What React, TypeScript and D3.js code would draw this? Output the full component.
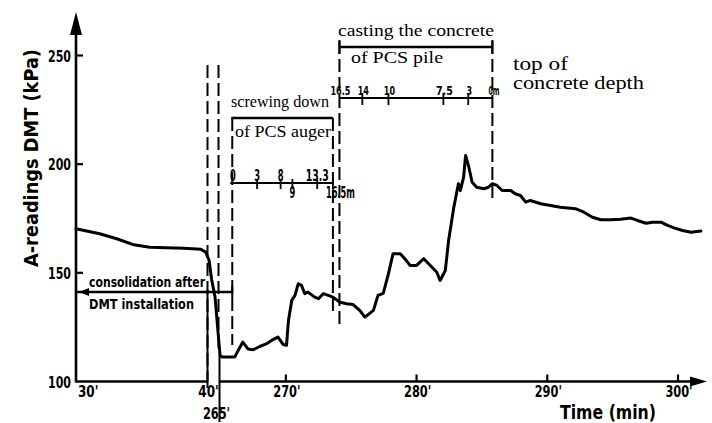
import React from "react";
import * as d3 from "d3";

// ---- data ----
const readingTime = [
  30, 31.8, 33.1, 34.4, 35.6, 38.2, 39.5, 39.85,
  66, 113, 170, 256,
  265.1, 266.1, 266.35, 266.7, 267.1, 267.5, 268.0, 268.5, 268.9, 269.4, 269.8, 270.05,
  270.2, 270.45, 270.7, 270.95, 271.2, 271.45, 271.7, 272.2, 272.5, 272.85, 273.25, 273.6,
  274.15, 274.65, 275.15, 275.65, 276.05, 276.7, 277.05, 277.45, 277.85, 278.2, 278.75,
  279.1, 279.5, 280.0, 280.55, 281.05, 281.55, 281.8, 282.2, 282.45, 282.85, 283.1, 283.2,
  283.35, 283.6, 283.75, 284.0, 284.25, 284.6, 285.15, 285.5, 285.8, 286.15, 286.55, 287.2,
  287.55, 287.95, 288.35, 288.7, 289.5, 290.25, 291.0, 292.15, 292.8, 293.45, 294.1, 294.85,
  295.6, 296.4, 296.9, 297.55, 298.05, 298.7, 299.2, 299.7, 300.35, 301.0, 301.75,
];
const readingKPa = [
  170.3, 168.0, 165.7, 162.9, 161.8, 161.3, 160.8, 159.6,
  155.9, 146.7, 139.0, 112.2,
  111.3, 111.3, 114.3, 118.1, 115.0, 114.6, 116.1, 117.3, 118.9, 120.4, 117.0, 116.6,
  128.1, 137.3, 139.6, 145.0, 144.2, 140.4, 141.1, 138.8, 138.1, 140.4, 139.6, 138.8,
  136.5, 135.8, 135.4, 132.7, 129.6, 132.7, 139.6, 140.6, 149.6, 158.8, 158.8,
  156.5, 153.4, 153.4, 156.5, 153.4, 150.3, 146.5, 151.1, 164.9, 180.2, 187.9, 191.0,
  187.9, 194.0, 204.0, 198.6, 191.7, 189.4, 188.7, 189.4, 191.0, 190.2, 187.9, 187.9,
  186.4, 185.6, 182.5, 183.3, 181.8, 181.0, 180.2, 179.5, 177.9, 175.6, 174.4, 174.4,
  174.7, 175.2, 174.1, 172.8, 173.3, 173.3, 171.8, 170.7, 169.5, 168.7, 169.2,
];

const yTicks = [100, 150, 200, 250];
const xTicksRight = [270, 280, 290, 300];
const xTickLabels = ["30'", "40'", "265'", "270'", "280'", "290'", "300'"];
const xTickLabelTimes = [30, 40, 265, 270, 280, 290, 300];

// phases (minutes)
const breakTimes = [40, 265];
const screwStart = 265.9;
const screwEnd = 273.6;
const castStart = 274.1;
const castEnd = 285.8;

// depth marks
const screwDepthLabels = ["0", "3", "8", "9", "13.3", "16.5m"];
const screwDepthTimes = [265.95, 267.8, 269.6, 270.5, 272.4, 273.6];
const screwDepthBelow = [false, false, false, true, false, true];
const castDepthLabels = ["16.5", "14", "10", "7.5", "3", "0m"];
const castDepthTimes = [274.1, 275.85, 277.85, 282.05, 283.95, 285.8];

const W = 712;
const H = 423;

const cond = "'DejaVu Sans Condensed', 'DejaVu Sans', sans-serif";
const serif = "'Liberation Serif', 'DejaVu Serif', 'Times New Roman', serif";

export default function App() {
  const x = d3.scaleLinear().domain([30, 40, 265, 300]).range([76, 207.5, 220.5, 678]);
  const y = d3.scaleLinear().domain([100, 250]).range([381.5, 55.5]);

  const pts: [number, number][] = readingTime.map((t, i) => [t, readingKPa[i]]);
  const line = d3
    .line<[number, number]>()
    .x((d) => x(d[0]))
    .y((d) => y(d[1]))
    .curve(d3.curveLinear);

  const axisY = y(100);
  const x0 = x(30);
  const xb1 = x(breakTimes[0]);
  const xb2 = x(breakTimes[1]) - 1;
  const xs0 = x(screwStart);
  const xs1 = x(screwEnd);
  const xc0 = x(castStart);
  const xc1 = x(castEnd);

  const dash = "13,5";
  const boldText = (extra: any = {}) => ({
    fontFamily: cond,
    fontWeight: 700,
    fontStretch: "condensed" as any,
    ...extra,
  });

  const screwLineY = 118;
  const screwDepthY = 183;
  const castLineY = 47;
  const castDepthY = 98;

  return (
    <svg
      width={W}
      height={H}
      style={{ position: "absolute", left: 0, top: 0, background: "#fff" }}
    >
      <rect x={0} y={0} width={W} height={H} fill="#fff" />

      {/* y axis */}
      <line x1={x0} y1={axisY + 1} x2={x0} y2={24} stroke="#000" strokeWidth={2.6} />
      <path d={`M${x0},12 L${x0 - 6},35 L${x0 + 6},35 Z`} fill="#000" />
      {yTicks.slice(1).map((v) => (
        <line key={v} x1={x0} x2={x0 + 7} y1={y(v)} y2={y(v)} stroke="#000" strokeWidth={2.2} />
      ))}
      {yTicks.map((v) => (
        <text
          key={v}
          x={71}
          y={y(v) + 6}
          textAnchor="end"
          fontSize={16}
          textLength={23}
          lengthAdjust="spacingAndGlyphs"
          style={boldText()}
        >
          {v}
        </text>
      ))}
      <text
        transform={`translate(38,158) rotate(-90)`}
        textAnchor="middle"
        fontSize={19}
        textLength={218}
        lengthAdjust="spacingAndGlyphs"
        style={boldText()}
      >
        A-readings DMT (kPa)
      </text>

      {/* x axis (two segments with break) */}
      <line x1={x0} x2={xb1} y1={axisY} y2={axisY} stroke="#000" strokeWidth={2.6} />
      <line x1={xb2} x2={694} y1={axisY} y2={axisY} stroke="#000" strokeWidth={2.6} />
      <path d={`M707,${axisY} L690,${axisY - 5} L690,${axisY + 5} Z`} fill="#000" />
      {xTicksRight.map((t) => (
        <line key={t} x1={x(t)} x2={x(t)} y1={axisY} y2={axisY - 7} stroke="#000" strokeWidth={2.2} />
      ))}
      {xTickLabels.map((lab, i) => {
        const t = xTickLabelTimes[i];
        let tx = x(t);
        let ty = 397;
        let anchor: any = "middle";
        if (t === 30) {
          tx = x0 + 2;
          anchor = "start";
        } else if (t === 40) {
          tx = xb1 + 1;
        } else if (t === 265) {
          tx = xb2 - 3;
          ty = 419;
        } else {
          tx = x(t) + 1;
        }
        return (
          <text
            key={lab}
            x={tx}
            y={ty}
            textAnchor={anchor}
            fontSize={16}
            textLength={lab.length * 6.8}
            lengthAdjust="spacingAndGlyphs"
            style={boldText()}
          >
            {lab}
          </text>
        );
      })}
      <text
        x={560}
        y={419}
        fontSize={19}
        textLength={96}
        lengthAdjust="spacingAndGlyphs"
        style={boldText()}
      >
        Time  (min)
      </text>

      {/* break / phase boundary lines */}
      <line x1={xb1} x2={xb1} y1={65} y2={axisY} stroke="#000" strokeWidth={2} strokeDasharray={dash} />
      <line x1={xb1} x2={xb1} y1={290} y2={388} stroke="#000" strokeWidth={2} />
      <line x1={xb2 - 1} x2={xb2 - 1} y1={65} y2={352} stroke="#000" strokeWidth={2} strokeDasharray={dash} />
      <line x1={xb2} x2={xb2} y1={355} y2={422} stroke="#000" strokeWidth={2} />
      <line x1={xs0} x2={xs0} y1={screwLineY} y2={345} stroke="#000" strokeWidth={2} strokeDasharray={dash} />
      <line x1={xs1} x2={xs1} y1={screwLineY} y2={313} stroke="#000" strokeWidth={2} strokeDasharray={dash} />
      <line x1={xc0} x2={xc0} y1={castLineY - 6} y2={327} stroke="#000" strokeWidth={2} strokeDasharray={dash} />
      <line x1={xc1} x2={xc1} y1={castLineY - 6} y2={200} stroke="#000" strokeWidth={2} strokeDasharray={dash} />

      {/* consolidation after DMT installation */}
      <line x1={x0} x2={xs0} y1={292} y2={292} stroke="#000" strokeWidth={2.4} />
      <path d={`M${x0 + 3},292 L${x0 + 13},288 L${x0 + 13},296 Z`} fill="#000" />
      <line x1={xs0} x2={xs0} y1={286} y2={298} stroke="#000" strokeWidth={2} />
      <text x={89} y={287} fontSize={14} textLength={116} lengthAdjust="spacingAndGlyphs" style={boldText()}>
        consolidation after
      </text>
      <text x={89} y={309} fontSize={14} textLength={105} lengthAdjust="spacingAndGlyphs" style={boldText()}>
        DMT installation
      </text>

      {/* screwing down of PCS auger */}
      <text x={231} y={107} fontSize={16} textLength={98} lengthAdjust="spacingAndGlyphs" style={{ fontFamily: serif }}>
        screwing down
      </text>
      <line x1={xs0 - 1} x2={xs1} y1={screwLineY} y2={screwLineY} stroke="#000" strokeWidth={2.4} />
      <text x={235} y={137} fontSize={17} textLength={96} lengthAdjust="spacingAndGlyphs" style={{ fontFamily: serif }}>
        of PCS auger
      </text>
      <line x1={xs0 - 2} x2={xs1} y1={screwDepthY} y2={screwDepthY} stroke="#000" strokeWidth={2.2} />
      {screwDepthLabels.map((lab, i) => {
        const tx = x(screwDepthTimes[i]);
        const below = screwDepthBelow[i];
        const isEnd = lab.endsWith("m");
        return (
          <g key={lab}>
            {i > 0 && (
              <line x1={tx} x2={tx} y1={screwDepthY - 4} y2={screwDepthY + 6} stroke="#000" strokeWidth={1.8} />
            )}
            <text
              x={isEnd ? tx - 7 : tx}
              y={below ? screwDepthY + 15 : screwDepthY - 2}
              textAnchor={isEnd ? "start" : "middle"}
              fontSize={15}
              textLength={lab.length * 5.8}
              lengthAdjust="spacingAndGlyphs"
              fill="#000"
              style={boldText()}
            >
              {lab}
            </text>
          </g>
        );
      })}

      {/* casting the concrete of PCS pile */}
      <text x={338} y={36} fontSize={17} textLength={156} lengthAdjust="spacingAndGlyphs" style={{ fontFamily: serif }}>
        casting the concrete
      </text>
      <line x1={xc0} x2={xc1} y1={castLineY} y2={castLineY} stroke="#000" strokeWidth={2.4} />
      <line x1={xc0} x2={xc0} y1={castLineY - 7} y2={castLineY + 7} stroke="#000" strokeWidth={2} />
      <line x1={xc1} x2={xc1} y1={castLineY - 7} y2={castLineY + 7} stroke="#000" strokeWidth={2} />
      <text x={351} y={63} fontSize={17} textLength={92} lengthAdjust="spacingAndGlyphs" style={{ fontFamily: serif }}>
        of PCS  pile
      </text>
      <line x1={xc0} x2={xc1} y1={castDepthY} y2={castDepthY} stroke="#000" strokeWidth={2.2} />
      {castDepthLabels.map((lab, i) => {
        const tx = x(castDepthTimes[i]);
        const isEnd = lab.endsWith("m");
        const isStart = i === 0;
        return (
          <g key={lab}>
            {i > 0 && i < castDepthLabels.length - 1 && (
              <line x1={tx} x2={tx} y1={castDepthY - 5} y2={castDepthY + 7} stroke="#000" strokeWidth={1.8} />
            )}
            <text
              x={isEnd ? tx - 4 : isStart ? tx + 1 : tx + 1}
              y={castDepthY - 3}
              textAnchor={isEnd ? "start" : "middle"}
              fontSize={isStart ? 12 : 13}
              textLength={isStart ? 20 : lab.length * 5.6}
              lengthAdjust="spacingAndGlyphs"
              fill="#000"
              style={boldText()}
            >
              {lab}
            </text>
          </g>
        );
      })}
      <text x={513} y={70} fontSize={19} textLength={55} lengthAdjust="spacingAndGlyphs" style={{ fontFamily: serif }}>
        top of
      </text>
      <text x={513} y={89} fontSize={19} textLength={131} lengthAdjust="spacingAndGlyphs" style={{ fontFamily: serif }}>
        concrete depth
      </text>

      {/* A-reading curve */}
      <path
        d={line(pts) ?? ""}
        fill="none"
        stroke="#000"
        strokeWidth={3}
        strokeLinejoin="round"
        strokeLinecap="round"
      />
    </svg>
  );
}
